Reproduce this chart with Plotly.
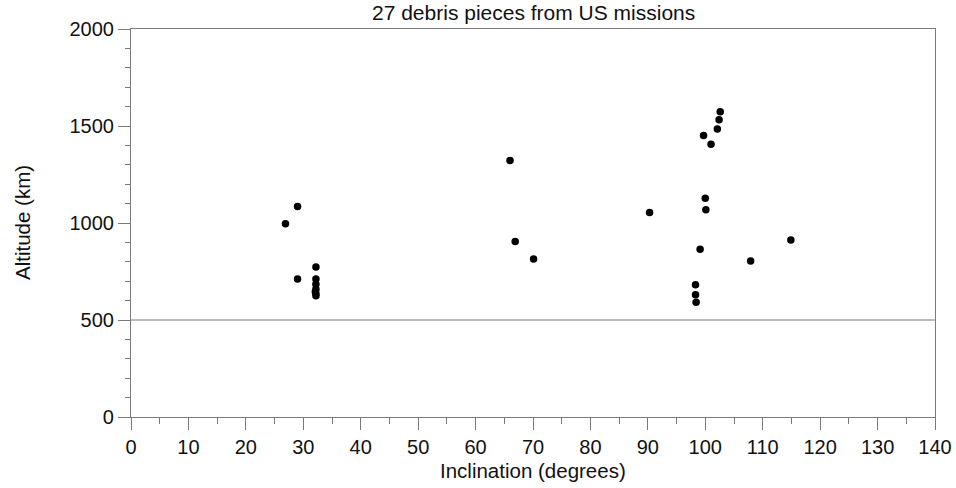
import plotly.graph_objects as go

inclination = [29.0, 26.9, 32.2, 29.0, 32.2, 32.2, 32.2, 32.2, 32.2,
               66.0, 66.9, 70.1,
               102.6, 102.4, 102.1, 99.7, 101.0, 100.0, 100.1, 99.1,
               98.3, 98.3, 98.4, 90.3, 114.9, 107.9, 32.1]
altitude = [1085, 996, 773, 711, 711, 684, 658, 635, 625,
            1322, 905, 814,
            1574, 1532, 1484, 1451, 1406, 1128, 1068, 865,
            682, 630, 592, 1054, 913, 804, 645]

title_text = "27 debris pieces from US missions"
x_title = "Inclination (degrees)"
y_title = "Altitude (km)"
ref_altitude = 500

FONT = "Liberation Sans, Arial, Helvetica, sans-serif"
LINE = "#7a7a7a"

fig = go.Figure(go.Scatter(
    x=inclination, y=altitude, mode="markers",
    marker=dict(color="black", size=7.5, line=dict(width=0)),
    cliponaxis=False, showlegend=False))

fig.add_hline(y=ref_altitude, line=dict(color=LINE, width=1.2))

fig.add_annotation(text=x_title, xref="paper", yref="paper", x=0.5, y=0,
                   xanchor="center", yanchor="middle", yshift=-53,
                   showarrow=False, font=dict(size=20.5, color="#111"))
fig.add_annotation(text=y_title, xref="paper", yref="paper", x=0, y=0.5,
                   xanchor="center", yanchor="middle", xshift=-109,
                   textangle=-90, showarrow=False, font=dict(size=20.5, color="#111"))
fig.add_annotation(text=title_text, xref="paper", yref="paper", x=0.5, y=1,
                   xanchor="center", yanchor="middle", yshift=17,
                   showarrow=False, font=dict(size=21, color="#111"))

fig.update_layout(
    width=956, height=488,
    margin=dict(l=131, r=21, t=29, b=71),
    paper_bgcolor="white", plot_bgcolor="white",
    font=dict(family=FONT, size=20, color="#111"),
    xaxis=dict(range=[0, 140], dtick=10, tick0=0, showgrid=False, zeroline=False,
               automargin=False, ticklabeloverflow="allow",
               showline=True, linecolor=LINE, linewidth=1.2, mirror=True,
               ticks="outside", ticklen=12, tickcolor=LINE, tickwidth=1.2,
               minor=dict(dtick=5, ticks="outside", ticklen=6, tickcolor=LINE, tickwidth=1),
               tickfont=dict(size=20)),
    yaxis=dict(range=[0, 2000], dtick=500, tick0=0, showgrid=False, zeroline=False,
               automargin=False,
               showline=True, linecolor=LINE, linewidth=1.2, mirror=True,
               ticks="outside", ticklen=12, tickcolor=LINE, tickwidth=1.2,
               minor=dict(dtick=100, ticks="outside", ticklen=5, tickcolor=LINE, tickwidth=1),
               tickfont=dict(size=20)),
)

fig.write_html("out.html", config={"displayModeBar": False},
               post_script="document.body.style.margin='0';document.body.style.overflow='hidden';")
